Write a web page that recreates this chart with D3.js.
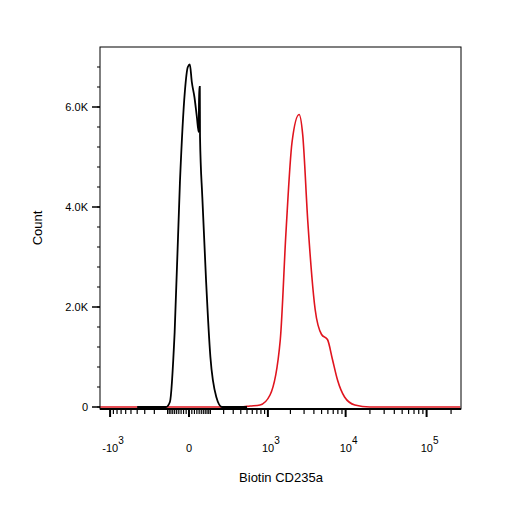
<!DOCTYPE html>
<html lang="en">
<head>
<meta charset="UTF-8">
<style>
  body { margin: 0; background: #fff; }
  text { font-family: "Liberation Sans", Arial, sans-serif; fill: #000; }
</style>
</head>
<body>
<svg id="chart" width="506" height="506"></svg>
<script src="https://unpkg.com/d3@7.8.2/dist/d3.min.js"></script>
<script>
  // black (unstained) histogram: [fluorescence, count]
  const blackX = [-400, -110, -86, -60, -35, -15, -4, 3, 10, 20, 30, 38, 40, 43, 44, 55, 75, 100, 140, 185, 500]
  const blackY = [0, 0, 100, 1500, 4500, 6300, 6800, 6850, 6500, 6200, 5800, 5500, 6400, 6400, 5400, 4200, 2500, 1000, 200, 0, 0]
  // red (Biotin CD235a) histogram
  const redX = [-1400, 400, 557, 776, 1070, 1470, 1750, 2100, 2590, 2880, 3350, 4150, 5000, 5930, 6850, 7920, 9700, 13000, 20000, 260000]
  const redY = [0, 0, 20, 40, 240, 1340, 3500, 5300, 5850, 5450, 3700, 1950, 1450, 1350, 950, 540, 200, 40, 0, 0]
  const yTicks = [0, 2000, 4000, 6000]
  const yLabels = ['0', '2.0K', '4.0K', '6.0K']
  const xMajor = [-1000, 0, 1000, 10000, 100000]

  const svg = d3.select('#chart')
  const pl = 100, pr = 461, pt = 47, pb = 409

  const x = d3.scaleSymlog().constant(120).domain([-1370, 265000]).range([pl, pr])
  const y = d3.scaleLinear().domain([0, 7200]).range([407, 407 - 360])

  const line = d3.line().x(d => x(d[0])).y(d => y(d[1])).curve(d3.curveMonotoneX)

  svg.append('path').datum(redX.map((v, i) => [v, redY[i]]))
    .attr('d', line).attr('fill', 'none').attr('stroke', '#e0141e').attr('stroke-width', 1.6)
  svg.append('path').datum(blackX.map((v, i) => [v, blackY[i]]))
    .attr('d', line).attr('fill', 'none').attr('stroke', '#000').attr('stroke-width', 1.8)

  // frame
  svg.append('rect').attr('x', pl).attr('y', pt).attr('width', pr - pl).attr('height', pb - pt)
    .attr('fill', 'none').attr('stroke', '#000').attr('stroke-width', 1)
  svg.append('line').attr('x1', pl).attr('x2', pr).attr('y1', pb).attr('y2', pb)
    .attr('stroke', '#000').attr('stroke-width', 2)

  // y axis
  const yMinor = d3.range(0, 7200, 400)
  svg.selectAll('.ymin').data(yMinor).enter().append('line')
    .attr('x1', pl - 3).attr('x2', pl).attr('y1', d => y(d)).attr('y2', d => y(d)).attr('stroke', '#000')
  svg.selectAll('.ymaj').data(yTicks).enter().append('line')
    .attr('x1', pl - 8).attr('x2', pl).attr('y1', d => y(d)).attr('y2', d => y(d)).attr('stroke', '#000').attr('stroke-width', 1.5)
  svg.selectAll('.ylab').data(yTicks).enter().append('text')
    .attr('x', pl - 12).attr('y', d => y(d) + 4).attr('text-anchor', 'end').attr('font-size', 11)
    .text((d, i) => yLabels[i])

  // x axis minor ticks
  let minor = []
  for (const dec of [10, 100, 1000, 10000, 100000]) {
    for (let k = 2; k <= 9; k++) { minor.push(k * dec); minor.push(-k * dec) }
  }
  minor.push(10, 100, -10, -100)
  minor = minor.filter(v => v >= -1370 && v <= 265000)
  svg.selectAll('.xmin').data(minor).enter().append('line')
    .attr('x1', d => x(d)).attr('x2', d => x(d)).attr('y1', pb).attr('y2', pb + 5)
    .attr('stroke', '#000').attr('stroke-width', 1.2)
  svg.selectAll('.xmaj').data(xMajor).enter().append('line')
    .attr('x1', d => x(d)).attr('x2', d => x(d)).attr('y1', pb).attr('y2', pb + 8)
    .attr('stroke', '#000').attr('stroke-width', 2)

  const xl = svg.selectAll('.xlab').data(xMajor).enter().append('text')
    .attr('x', d => x(d) + (d === 0 ? 0 : 3)).attr('y', 452).attr('text-anchor', 'middle').attr('font-size', 11)
  xl.each(function (d) {
    const t = d3.select(this)
    if (d === 0) { t.text('0'); return }
    const e = Math.round(Math.log10(Math.abs(d)))
    t.append('tspan').text((d < 0 ? '-' : '') + '10')
    t.append('tspan').attr('dy', -8).attr('font-size', 10).text(e)
  })

  svg.append('text').attr('x', 281).attr('y', 482).attr('text-anchor', 'middle').attr('font-size', 13).text('Biotin CD235a')
  svg.append('text').attr('transform', 'translate(42,228) rotate(-90)').attr('text-anchor', 'middle').attr('font-size', 13).text('Count')
</script>
</body>
</html>
